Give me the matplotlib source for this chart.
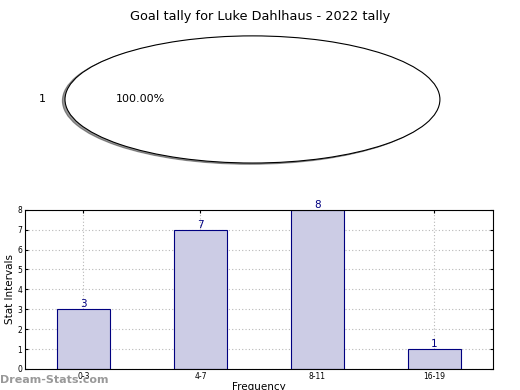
import matplotlib
matplotlib.use("Agg")
import matplotlib.pyplot as plt

title = 'Goal tally for Luke Dahlhaus - 2022 tally'
pie_labels = ['1']
pie_values = [1]

bins = ['0-3', '4-7', '8-11', '16-19']
counts = [3, 7, 8, 1]

fig = plt.figure(figsize=(5.2, 3.9), dpi=100)

# pie (stretched, not circular)
ax1 = fig.add_axes([0.125, 0.582, 0.721, 0.326])
ax1.pie(pie_values, labels=pie_labels, autopct='%1.2f%%',
        shadow={'ox': -0.01, 'oy': -0.014, 'shade': 0.8},
        colors=['white'], wedgeprops={'edgecolor': 'black', 'linewidth': 0.8},
        textprops={'fontsize': 8})
ax1.set_aspect('auto')
ax1.set_xlim(-1, 1)
ax1.set_ylim(-1, 1)
fig.text(0.5, 0.975, title, ha='center', va='top', fontsize=9.3)

# bar chart
ax2 = fig.add_axes([0.048, 0.054, 0.9, 0.408])
x = range(len(bins))
ax2.bar(x, counts, width=0.45, color='#ccccE5', edgecolor='navy', linewidth=0.8, zorder=2)
for i, c in enumerate(counts):
    ax2.text(i, c, str(c), ha='center', va='bottom', color='navy', fontsize=7.5)
ax2.set_xlim(-0.5, 3.5)
ax2.set_ylim(0, 8)
ax2.set_xticks(list(x))
ax2.set_xticklabels(bins)
ax2.set_yticks(range(9))
ax2.tick_params(labelsize=5.5, direction='in', length=2, top=True, right=True, pad=2)
ax2.grid(True, linestyle=(0, (1, 2)), color='#b8b8b8', linewidth=0.8)
ax2.set_axisbelow(True)
ax2.set_ylabel('Stat Intervals', fontsize=7.5, labelpad=2)
ax2.set_xlabel('Frequency', fontsize=7.5, labelpad=1)

fig.text(0.0, 0.012, 'Dream-Stats.com', fontsize=8, color='#999999',
         fontweight='bold', ha='left', va='bottom')

fig.savefig('out.png', dpi=100)
